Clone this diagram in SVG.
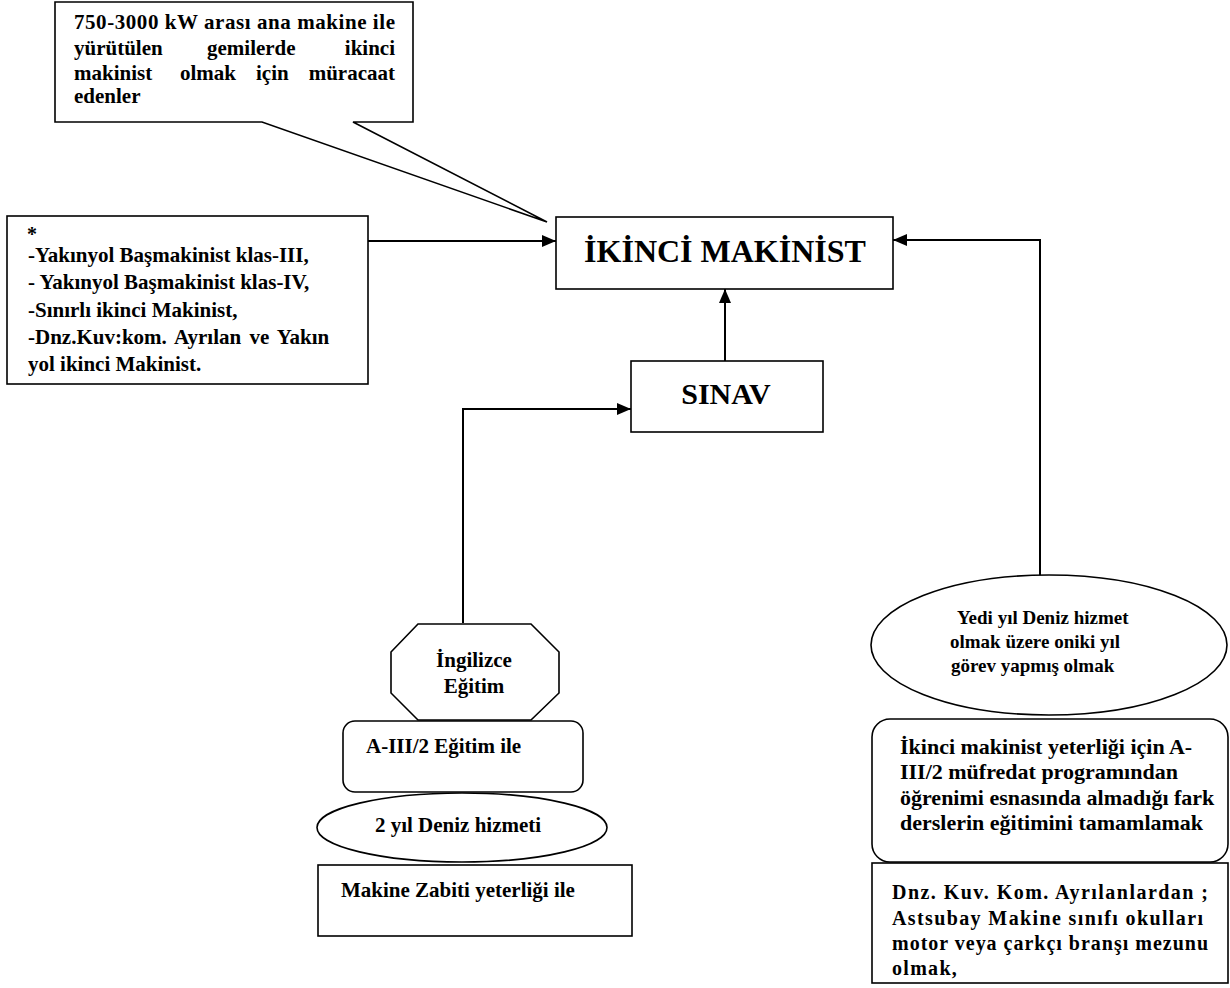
<svg xmlns="http://www.w3.org/2000/svg" width="1230" height="988" viewBox="0 0 1230 988">
<style>
.s{fill:#fff;stroke:#000;stroke-width:1.6}
.c{fill:none;stroke:#000;stroke-width:2}
text{font-family:"Liberation Serif","Times New Roman",serif;font-weight:bold;fill:#000}
.t21{font-size:21px}
.t20{font-size:20px}
.t19{font-size:19px}
.t22{font-size:22px}
.mid{text-anchor:middle}
</style>
<defs>
<marker id="ah" viewBox="0 0 14 12" refX="14" refY="6" markerWidth="14" markerHeight="12" markerUnits="userSpaceOnUse" orient="auto">
<path d="M0,0 L14,6 L0,12 Z" fill="#000"/>
</marker>
</defs>
<rect width="1230" height="988" fill="#fff"/>
<g id="connectors">
<path class="c" d="M368,241 H556" marker-end="url(#ah)"/>
<path class="c" d="M1040,576 V240 H893" marker-end="url(#ah)"/>
<path class="c" d="M725,361 V289" marker-end="url(#ah)"/>
<path class="c" d="M463,623 V409 H631" marker-end="url(#ah)"/>
</g>
<g id="callout">
<path class="s" d="M55,2 H413 V122 H353 L547,222 L262,122 H55 Z"/>
<text class="t21" x="74" y="29" textLength="321" lengthAdjust="spacing">750-3000 kW arası ana makine ile</text>
<text class="t21"><tspan x="74" y="55">yürütülen</tspan><tspan x="207" y="55">gemilerde</tspan><tspan x="395" y="55" text-anchor="end">ikinci</tspan></text>
<text class="t21"><tspan x="74" y="80">makinist</tspan><tspan x="180" y="80">olmak</tspan><tspan x="256" y="80">için</tspan><tspan x="395" y="80" text-anchor="end">müracaat</tspan></text>
<text class="t21" x="74" y="103">edenler</text>
</g>
<g id="left-box">
<rect class="s" x="7" y="216" width="361" height="168"/>
<text class="t20" x="27" y="241">*</text>
<text class="t21" x="28" y="262">-Yakınyol Başmakinist klas-III,</text>
<text class="t21" x="28" y="289">- Yakınyol Başmakinist klas-IV,</text>
<text class="t21" x="28" y="317">-Sınırlı ikinci Makinist,</text>
<text class="t21" x="28" y="344" word-spacing="3">-Dnz.Kuv:kom. Ayrılan ve Yakın</text>
<text class="t21" x="28" y="371">yol ikinci Makinist.</text>
</g>
<g id="ikinci-makinist">
<rect class="s" x="556" y="217" width="337" height="72"/>
<text class="mid" x="725" y="262" font-size="32">İKİNCİ MAKİNİST</text>
</g>
<g id="sinav">
<rect class="s" x="631" y="361" width="192" height="71"/>
<text class="mid" x="726" y="404" font-size="30">SINAV</text>
</g>
<g id="ingilizce">
<polygon class="s" points="418,624 531,624 559,652 559,693 531,720 418,720 391,693 391,652"/>
<text class="t21 mid" x="474" y="667">İngilizce</text>
<text class="t21 mid" x="474" y="693">Eğitim</text>
</g>
<g id="a3-egitim">
<rect class="s" x="343" y="721" width="240" height="71" rx="12"/>
<text class="t21" x="366" y="753">A-III/2 Eğitim ile</text>
</g>
<g id="deniz-2">
<ellipse class="s" cx="462" cy="827.5" rx="145" ry="34.5"/>
<text class="t21 mid" x="458" y="832">2 yıl Deniz hizmeti</text>
</g>
<g id="makine-zabiti">
<rect class="s" x="318" y="865" width="314" height="71"/>
<text class="t21" x="341" y="897">Makine Zabiti yeterliği ile</text>
</g>
<g id="yedi-yil">
<ellipse class="s" cx="1049" cy="645" rx="178" ry="70"/>
<text class="t19" x="957" y="624">Yedi yıl Deniz hizmet</text>
<text class="t19" x="950" y="648">olmak üzere oniki yıl</text>
<text class="t19" x="951" y="672">görev yapmış olmak</text>
</g>
<g id="fark-dersler">
<rect class="s" x="872" y="719" width="356" height="143" rx="18"/>
<text class="t22" x="900" y="754">İkinci makinist yeterliği için A-</text>
<text class="t22" x="900" y="779">III/2 müfredat programından</text>
<text class="t22" x="900" y="805">öğrenimi esnasında almadığı fark</text>
<text class="t22" x="900" y="830">derslerin eğitimini tamamlamak</text>
</g>
<g id="dnz-kuv">
<rect class="s" x="872" y="863" width="356" height="120"/>
<text class="t20" x="892" y="899" textLength="316" lengthAdjust="spacing">Dnz. Kuv. Kom. Ayrılanlardan ;</text>
<text class="t20" x="892" y="925" textLength="311" lengthAdjust="spacing">Astsubay Makine sınıfı okulları</text>
<text class="t20" x="892" y="950" textLength="316" lengthAdjust="spacing">motor veya çarkçı branşı mezunu</text>
<text class="t20" x="892" y="975" letter-spacing="1.3">olmak,</text>
</g>
</svg>
